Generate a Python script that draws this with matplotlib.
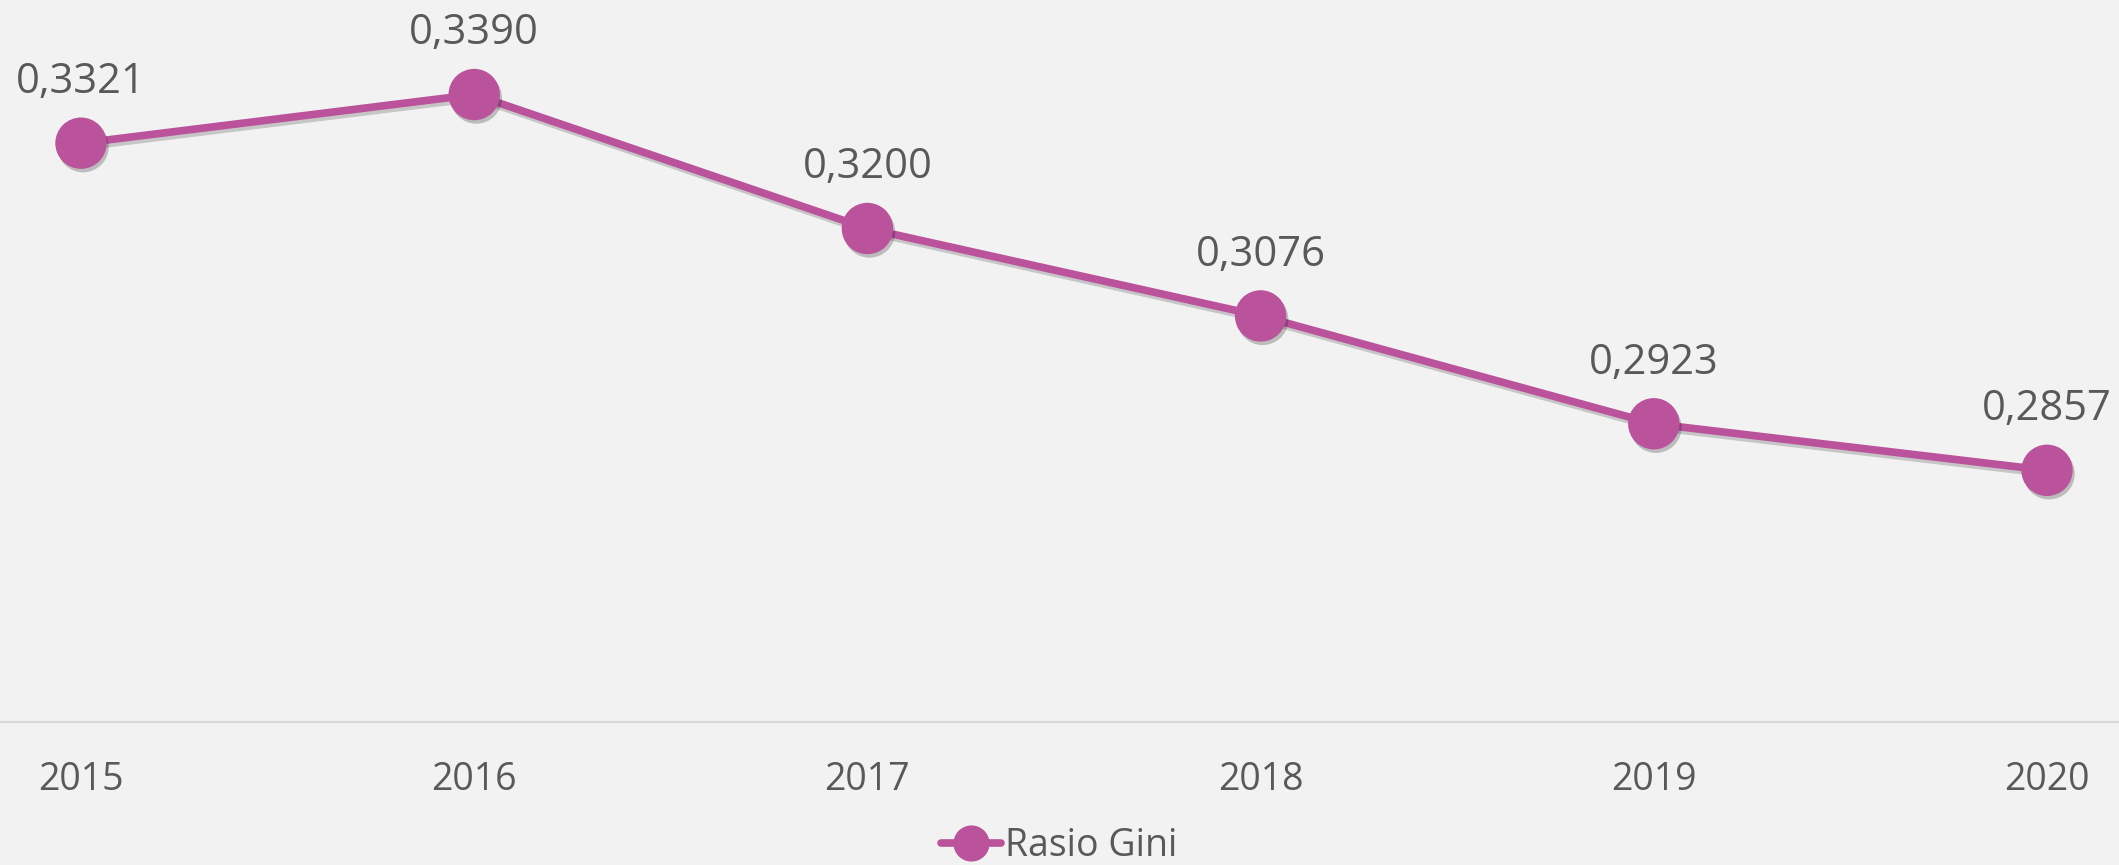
import matplotlib
matplotlib.use('Agg')
import matplotlib.pyplot as plt
import matplotlib.patheffects as pe
from matplotlib.lines import Line2D

years = ['2015', '2016', '2017', '2018', '2019', '2020']
gini = [0.3321, 0.3390, 0.3200, 0.3076, 0.2923, 0.2857]
labels = ['0,3321', '0,3390', '0,3200', '0,3076', '0,2923', '0,2857']

plt.rcParams['font.family'] = ['Open Sans', 'DejaVu Sans']

bg = '#F2F2F2'
pink = '#BA529C'
txt = '#595959'

fig = plt.figure(figsize=(21.19, 8.65), dpi=100, facecolor=bg)
ax = fig.add_axes([0, 1 - 722 / 865, 1, 705 / 865])
ax.set_facecolor(bg)

x = list(range(len(years)))
ax.plot(x, gini, '-', color=pink, linewidth=5.5, solid_capstyle='round', zorder=3,
        path_effects=[pe.SimpleLineShadow(offset=(1.5, -2.5), shadow_color='k', alpha=0.18),
                      pe.Normal()])
ax.plot(x, gini, 'o', color=pink, markersize=37, markeredgewidth=0, zorder=4,
        path_effects=[pe.SimplePatchShadow(offset=(1.5, -2.5), shadow_rgbFace='k', alpha=0.22),
                      pe.Normal()])

for xi, yi, s in zip(x, gini, labels):
    ax.annotate(s, (xi, yi), xytext=(0, 44), textcoords='offset points',
                ha='center', va='center', fontsize=30, color=txt)

ax.set_xlim(-81 / 393.2, 5 + 72 / 393.2)
ax.set_ylim(0.25, 0.35)
ax.set_yticks([])
ax.set_xticks(x)
ax.set_xticklabels(years, fontsize=27, color=txt)
ax.tick_params(axis='x', length=0, pad=28)
for side in ['top', 'left', 'right']:
    ax.spines[side].set_visible(False)
ax.spines['bottom'].set_color('#D9D9D9')
ax.spines['bottom'].set_linewidth(1.5)

handle = Line2D([], [], color=pink, linewidth=5.5, marker='o', markersize=25,
                solid_capstyle='round')
fig.legend([handle], ['Rasio Gini'], loc='center', bbox_to_anchor=(0.5, 1 - 846 / 865),
           frameon=False, fontsize=27, labelcolor=txt, handlelength=1.6,
           handletextpad=0.1, borderpad=0)

fig.savefig('out.png', dpi=100, facecolor=bg)
